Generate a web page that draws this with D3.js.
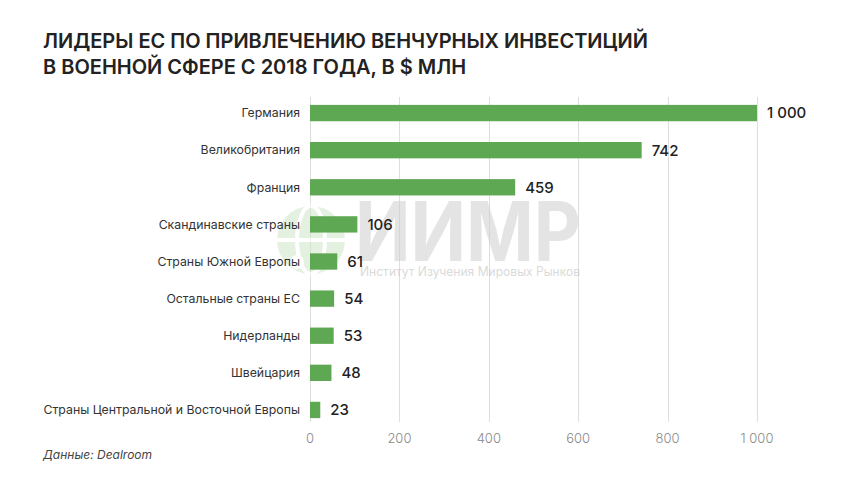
<!DOCTYPE html>
<html lang="ru">
<head>
<meta charset="UTF-8">
<title>Лидеры ЕС по привлечению венчурных инвестиций</title>
<script src="https://d3js.org/d3.v7.min.js"></script>
<style>
    body { margin: 0; background: #fff; font-family: Inter, "Noto Sans", sans-serif; }
    svg { display: block; }
    .title { font-size: 20px; font-weight: 600; fill: #222; }
    .cat { font-size: 12.3px; fill: #333; }
    .val { font-size: 15px; font-weight: 500; fill: #222; }
    .tick-label { font-size: 13px; fill: #888; font-weight: 300; }
    .grid-line { stroke: #dedede; stroke-width: 1px; shape-rendering: crispEdges; }
    .source { font-size: 12px; font-style: italic; fill: #444; }
</style>
</head>
<body>
<div id="chart"></div>
<script>
    // --- Data ---
    const categories = [
        "Германия", "Великобритания", "Франция", "Скандинавские страны",
        "Страны Южной Европы", "Остальные страны ЕС", "Нидерланды",
        "Швейцария", "Страны Центральной и Восточной Европы"
    ];
    const values = [1000, 742, 459, 106, 61, 54, 53, 48, 23];
    const xTicks = [0, 200, 400, 600, 800, 1000];
    const titleLines = [
        "ЛИДЕРЫ ЕС ПО ПРИВЛЕЧЕНИЮ ВЕНЧУРНЫХ ИНВЕСТИЦИЙ",
        "В ВОЕННОЙ СФЕРЕ С 2018 ГОДА, В $ МЛН"
    ];
    const sourceText = "Данные: Dealroom";

    // --- Setup ---
    const W = 860, H = 484;
    const svg = d3.select("#chart").append("svg").attr("width", W).attr("height", H);

    const ru = d3.formatLocale({ decimal: ",", thousands: " ", grouping: [3], currency: ["", ""] });
    const fmt = ru.format(",d");

    const x = d3.scaleLinear().domain([0, 1000]).range([310, 757]);
    const y = d3.scaleBand().domain(categories).range([94.5, 428.5]).paddingInner(0.56).paddingOuter(0.28);

    // Title
    svg.selectAll(".title").data(titleLines).join("text")
        .attr("class", "title")
        .attr("x", 43).attr("y", (d, i) => 48 + i * 26)
        .text(d => d);

    // Grid
    svg.append("g").selectAll("line").data(xTicks).join("line")
        .attr("class", "grid-line")
        .attr("x1", d => Math.round(x(d)) + 0.5).attr("x2", d => Math.round(x(d)) + 0.5)
        .attr("y1", 97).attr("y2", 422);

    // Watermark (semi-transparent logo behind the bars)
    const wm = svg.append("g").attr("opacity", 0.55);
    const globe = wm.append("g").attr("transform", "translate(311,240)");
    globe.append("circle").attr("r", 34).attr("fill", "#cfe6c9");
    globe.append("ellipse").attr("rx", 14).attr("ry", 34).attr("fill", "none").attr("stroke", "#fff").attr("stroke-width", 4);
    globe.append("line").attr("x1", -34).attr("x2", 34).attr("stroke", "#fff").attr("stroke-width", 4);
    globe.append("circle").attr("cx", -14).attr("cy", 22).attr("r", 7).attr("fill", "#fff");
    wm.append("text").attr("x", 355).attr("y", 261)
        .attr("font-size", 82).attr("font-weight", 700).attr("fill", "#cfcfcf")
        .attr("textLength", 226).attr("lengthAdjust", "spacingAndGlyphs")
        .text("ИИМР");
    wm.append("text").attr("x", 360).attr("y", 276)
        .attr("font-size", 12.5).attr("fill", "#bdbdbd")
        .attr("textLength", 220).attr("lengthAdjust", "spacingAndGlyphs")
        .text("Институт Изучения Мировых Рынков");

    // Bars
    svg.append("g").selectAll("rect").data(values).join("rect")
        .attr("x", x(0))
        .attr("y", (d, i) => y(categories[i]))
        .attr("width", d => x(d) - x(0))
        .attr("height", y.bandwidth())
        .attr("fill", "#5fa853");

    // Value labels
    svg.append("g").selectAll("text").data(values).join("text")
        .attr("class", "val")
        .attr("x", d => x(d) + 10)
        .attr("y", (d, i) => y(categories[i]) + y.bandwidth() / 2)
        .attr("dy", "0.36em")
        .text(d => fmt(d));

    // Category labels
    svg.append("g").selectAll("text").data(categories).join("text")
        .attr("class", "cat")
        .attr("x", 300).attr("text-anchor", "end")
        .attr("y", d => y(d) + y.bandwidth() / 2)
        .attr("dy", "0.35em")
        .text(d => d);

    // X tick labels
    svg.append("g").selectAll("text").data(xTicks).join("text")
        .attr("class", "tick-label")
        .attr("x", d => x(d)).attr("y", 443)
        .attr("text-anchor", "middle")
        .text(d => fmt(d));

    // Source
    svg.append("text").attr("class", "source").attr("x", 43).attr("y", 459).text(sourceText);
</script>
</body>
</html>
